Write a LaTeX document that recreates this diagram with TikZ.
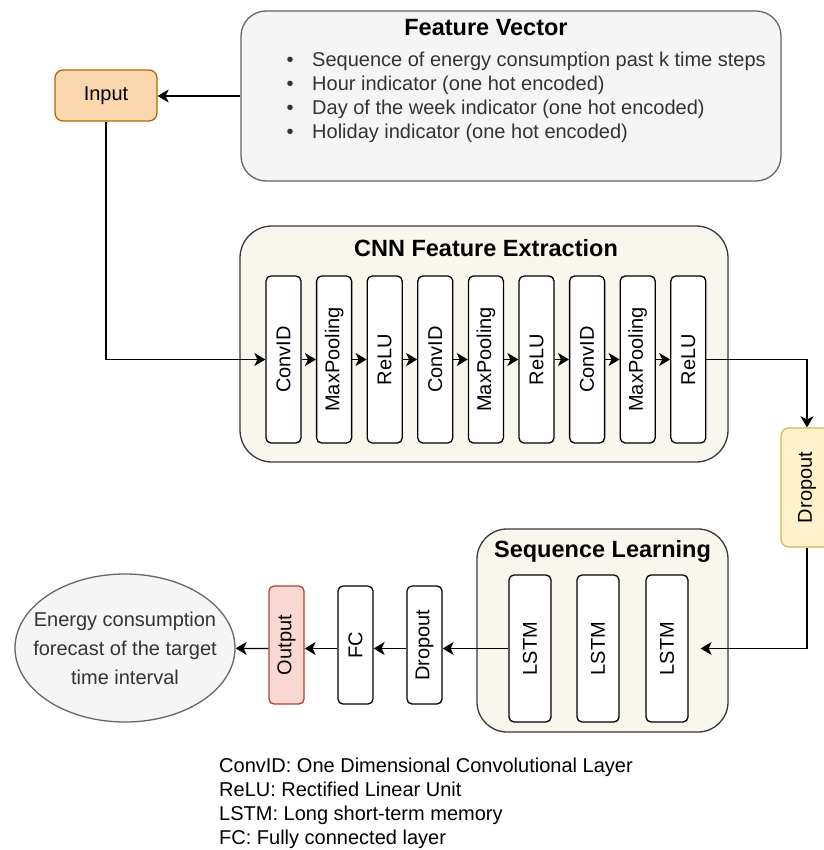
\documentclass[tikz,border=0pt]{standalone}
\usepackage{fontspec}
\usepackage{graphicx}
\setmainfont{Liberation Sans}
\usetikzlibrary{arrows.meta,positioning,shapes.geometric}

\definecolor{input fill}{HTML}{FAD7AC}
\definecolor{input edge}{HTML}{B46504}
\definecolor{vector fill}{HTML}{F5F5F5}
\definecolor{vector edge}{HTML}{666666}
\definecolor{group fill}{HTML}{F9F7ED}
\definecolor{group edge}{HTML}{36393D}
\definecolor{drop fill}{HTML}{FFF2CC}
\definecolor{drop edge}{HTML}{D6B656}
\definecolor{output fill}{HTML}{FAD9D5}
\definecolor{output edge}{HTML}{AE4132}
\colorlet{soft text}{black!80}
\def\bodyfont{\fontsize{20}{24}\selectfont}
\def\titlefont{\fontsize{23.5}{28}\selectfont\bfseries}
\tikzset{
  every node/.style={font=\bodyfont, inner sep=0pt},
  layer/.style={draw, fill=white, rounded corners=5pt, line width=1.3pt,
    minimum width=35pt, minimum height=167pt},
  lstm/.style={layer, minimum width=42pt, minimum height=147pt},
  group/.style={draw=group edge, fill=group fill, rounded corners=32pt, line width=1.3pt},
  grouptitle/.style={anchor=base, font=\titlefont}
  }
\tikzstyle{link} = [draw, line width=1.3pt, -{Stealth[length=11pt,width=13pt,inset=3pt]}]
\tikzstyle{dropbox} = [draw=drop edge, fill=drop fill, rounded corners=8pt, line width=1.3pt,
  minimum width=52pt, minimum height=119pt]

\begin{document}
\begin{tikzpicture}[x=1pt, y=-1pt]
  \useasboundingbox (0,0) rectangle (823,850);

  % feature vector and input
  \node[draw=vector edge, fill=vector fill, rounded corners=25pt, line width=1.3pt,
    minimum width=540pt, minimum height=170pt] (vector) at (511,96) {};
  \node[grouptitle] (vectortitle) at (486,36) {Feature Vector};
  \foreach \y/\txt [count=\k] in {67/{Sequence of energy consumption past k time steps},
      91/{Hour indicator (one hot encoded)}, 115/{Day of the week indicator (one hot encoded)},
      139/{Holiday indicator (one hot encoded)}} {
    \node[anchor=base, text=soft text] (dot\k) at (290,\y) {\textbullet};
    \node[anchor=base west, text=soft text] (item\k) at (312,\y) {\txt};
  }
  \node[draw=input edge, fill=input fill, rounded corners=8pt, line width=1.3pt,
    minimum width=102pt, minimum height=51pt] (input) at (106,95.5) {Input};

  % cnn block
  \node[group, minimum width=488pt, minimum height=236pt] (cnn) at (484,344) {};
  \node[grouptitle] (cnntitle) at (486,256) {CNN Feature Extraction};
  \foreach \i/\name/\txt in {0/c1/ConvID, 1/m1/MaxPooling, 2/r1/ReLU,
      3/c2/ConvID, 4/m2/MaxPooling, 5/r2/ReLU, 6/c3/ConvID, 7/m3/MaxPooling, 8/r3/ReLU} {
    \node[layer] (\name) at (283.5+50.6*\i,359.5) {\rotatebox{90}{\txt}};
  }
  \foreach \a/\b in {c1/m1, m1/r1, r1/c2, c2/m2, m2/r2, r2/c3, c3/m3, m3/r3}
    \draw[link] (\a) -- (\b);

  \node[dropbox] (dropA) at (807,487.5) {\rotatebox{90}{Dropout}};

  % sequence block
  \node[group, rounded corners=30pt, minimum width=251pt, minimum height=203pt] (seq) at (602.5,630.5) {};
  \node[grouptitle] (seqtitle) at (602.5,557) {Sequence Learning};
  \foreach \pos/\name in {530/l1, 598/l2, 667/l3}
    \node[lstm] (\name) at (\pos,648.5) {\rotatebox{90}{LSTM}};

  % output side
  \node[layer, minimum height=118pt] (dropB) at (424.5,645) {\rotatebox{90}{Dropout}};
  \node[layer, minimum height=118pt] (fc) at (355.5,645) {\rotatebox{90}{FC}};
  \node[layer, minimum height=118pt, draw=output edge, fill=output fill] (out) at (286.5,645) {\rotatebox{90}{Output}};
  \node[ellipse, draw=vector edge, fill=vector fill, line width=1.3pt,
    minimum width=220pt, minimum height=148pt] (forecast) at (125,648) {};
  \node[text=soft text, align=center, font=\fontsize{20}{29}\selectfont]
    (forecasttext) at (forecast) {Energy consumption\\forecast of the target\\time interval};

  % connectors
  \draw[link] (vector.west) -- (vector.west -| input.east);
  \draw[link] (input) |- (c1);
  \draw[link] (r3) -| (dropA);
  \draw[link, shorten >=12pt] (dropA) |- (l3);
  \draw[link] (l1.west) -- (l1.west -| dropB.east);
  \draw[link] (dropB.west |- l1) -- (fc.east |- l1);
  \draw[link] (fc.west |- l1) -- (out.east |- l1);
  \draw[link] (out.west |- l1) -- (forecast);

  % legend
  \node[anchor=base west, align=left] (legend) at (219,844)
    {ConvID: One Dimensional Convolutional Layer\\ReLU: Rectified Linear Unit\\LSTM: Long short-term memory\\FC: Fully connected layer};
\end{tikzpicture}
\end{document}
